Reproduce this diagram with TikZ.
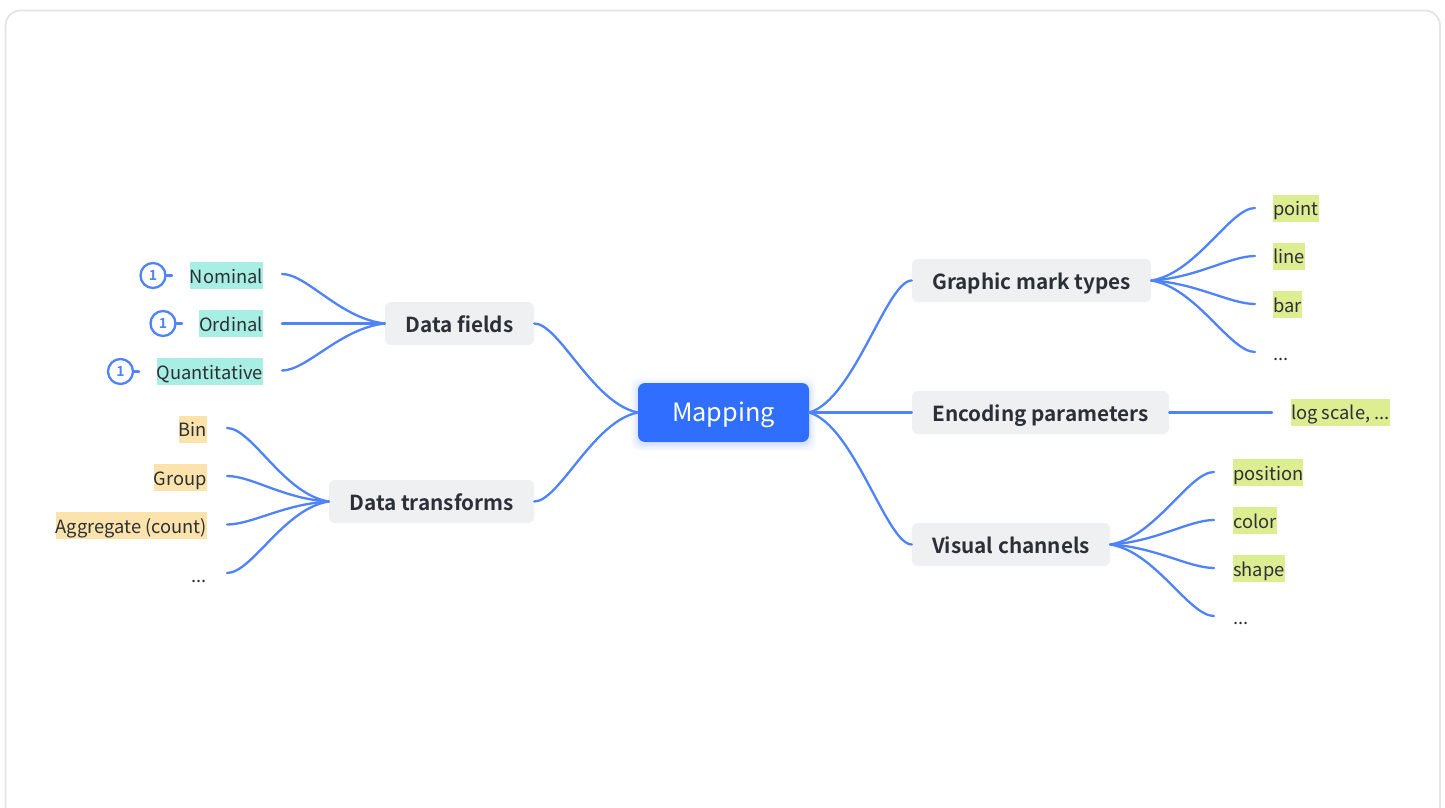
\documentclass[tikz,border=0pt]{standalone}
\usepackage{fontspec}
\setmainfont{Noto Sans CJK SC}[BoldFont={Noto Sans CJK SC Bold}]
\definecolor{inkc}{HTML}{2B2F36}
\definecolor{linkc}{HTML}{4F83FB}
\definecolor{rootc}{HTML}{2F6EFF}
\definecolor{grayc}{HTML}{EFF0F2}
\definecolor{tealc}{HTML}{A9EEE2}
\definecolor{orangec}{HTML}{FBE3AB}
\definecolor{greenc}{HTML}{DDED91}
\definecolor{cardc}{HTML}{E4E4E4}
\tikzset{
  x=1pt,y=-1pt,
  link/.style={draw=linkc,line width=2.3pt,line cap=round},
  branch/.style={fill=grayc,rounded corners=6pt,inner sep=0pt,minimum height=43pt,text=inkc,text height=17pt,text depth=0pt,font=\fontsize{20.7}{24}\selectfont\bfseries},
  leaf/.style={inner xsep=0pt,inner ysep=0pt,minimum height=27pt,text=inkc,text height=15pt,text depth=0pt,font=\fontsize{18.3}{24}\selectfont},
  teal/.style={leaf,fill=tealc,anchor=east},
  orange/.style={leaf,fill=orangec,anchor=east},
  green/.style={leaf,fill=greenc,anchor=west},
  marker/.style={circle,draw=linkc,line width=2.3pt,fill=white,minimum size=25pt,inner sep=0pt,text=linkc,font=\fontsize{14}{14}\selectfont\bfseries},
}
\begin{document}
\begin{tikzpicture}
\useasboundingbox (0,0) rectangle (1445,808);
\fill[white] (0,0) rectangle (1445,808);
\draw[cardc,line width=1.8pt,rounded corners=15pt] (5.5,830) -- (5.5,10.5) -- (1440,10.5) -- (1440,830);

% root glow
\foreach \g/\o in {7/0.03,5/0.04,3/0.05,1.5/0.06}{
  \fill[rootc,opacity=\o,rounded corners=8pt] (638-\g,385-\g) rectangle (809+\g,444+\g);
}
\node[fill=rootc,rounded corners=7pt,minimum width=171pt,minimum height=59pt,inner sep=0pt,text=white,text height=17pt,text depth=0pt,font=\fontsize{25.3}{30}\selectfont] (root) at (723.5,412.5) {Mapping};

% branches
\node[branch,minimum width=149pt] (fields) at (459.5,323.5) {Data fields};
\node[branch,minimum width=205pt] (transforms) at (431.5,501.5) {Data transforms};
\node[branch,minimum width=239pt] (marks) at (1031.5,280.5) {Graphic mark types};
\node[branch,minimum width=257pt] (params) at (1040.5,412.5) {Encoding parameters};
\node[branch,minimum width=198pt] (channels) at (1011,544.5) {Visual channels};

% left leaves
\node[teal] (nominal) at (263,275.5) {Nominal};
\node[teal] (ordinal) at (263,323.5) {Ordinal};
\node[teal] (quant) at (263,371.5) {Quantitative};
\node[orange] (bin) at (207,429) {Bin};
\node[orange] (group) at (207,477.5) {Group};
\node[orange] (aggr) at (207,525.5) {Aggregate (count)};
\node[leaf,anchor=east] (ldots) at (207,575) {...};

% right leaves
\node[green] (point) at (1273,208) {point};
\node[green] (line) at (1273,256) {line};
\node[green] (bar) at (1273,304.5) {bar};
\node[leaf,anchor=west] (rdots) at (1273,353) {...};
\node[green] (log) at (1291,412) {log scale, ...};
\node[green] (position) at (1233,472.5) {position};
\node[green] (color) at (1233,520.5) {color};
\node[green] (shape) at (1233,568.5) {shape};
\node[leaf,anchor=west] (vdots) at (1233,617) {...};

% free ends of leaf connectors
\coordinate (nominalEnd) at (282,274);
\coordinate (ordinalEnd) at (282,323.5);
\coordinate (quantEnd) at (282,370.5);
\coordinate (binEnd) at (227,428);
\coordinate (groupEnd) at (227,476);
\coordinate (aggrEnd) at (227,524.5);
\coordinate (ldotsEnd) at (227,573);
\coordinate (pointEnd) at (1255,208);
\coordinate (lineEnd) at (1255,256);
\coordinate (barEnd) at (1255,304);
\coordinate (rdotsEnd) at (1255,352);
\coordinate (logEnd) at (1272,412.5);
\coordinate (positionEnd) at (1214,472);
\coordinate (colorEnd) at (1214,520);
\coordinate (shapeEnd) at (1214,568);
\coordinate (vdotsEnd) at (1214,616);

% connectors
\draw[link] (fields.east) .. controls +(25,0) and +(-45,-9) .. (root.west);
\draw[link] (transforms.east) .. controls +(25,0) and +(-45,9) .. (root.west);
\draw[link] (root.east) .. controls +(45,-13) and +(-25,0) .. (marks.west);
\draw[link] (root.east) -- (params.west);
\draw[link] (root.east) .. controls +(45,13) and +(-25,0) .. (channels.west);

\draw[link] (nominalEnd) .. controls +(25,0) and +(-45,-5) .. (fields.west);
\draw[link] (ordinalEnd) -- (fields.west);
\draw[link] (quantEnd) .. controls +(25,0) and +(-45,5) .. (fields.west);

\draw[link] (binEnd) .. controls +(25,0) and +(-45,-7) .. (transforms.west);
\draw[link] (groupEnd) .. controls +(25,0) and +(-45,-2.5) .. (transforms.west);
\draw[link] (aggrEnd) .. controls +(25,0) and +(-45,2.5) .. (transforms.west);
\draw[link] (ldotsEnd) .. controls +(25,0) and +(-45,7) .. (transforms.west);

\draw[link] (marks.east) .. controls +(45,-7) and +(-25,0) .. (pointEnd);
\draw[link] (marks.east) .. controls +(45,-2.5) and +(-25,0) .. (lineEnd);
\draw[link] (marks.east) .. controls +(45,2.5) and +(-25,0) .. (barEnd);
\draw[link] (marks.east) .. controls +(45,7) and +(-25,0) .. (rdotsEnd);
\draw[link] (params.east) -- (logEnd);
\draw[link] (channels.east) .. controls +(45,-7) and +(-25,0) .. (positionEnd);
\draw[link] (channels.east) .. controls +(45,-2.5) and +(-25,0) .. (colorEnd);
\draw[link] (channels.east) .. controls +(45,2.5) and +(-25,0) .. (shapeEnd);
\draw[link] (channels.east) .. controls +(45,7) and +(-25,0) .. (vdotsEnd);

% markers
\coordinate (m1tick) at (172,275.5);
\coordinate (m2tick) at (182,323.5);
\coordinate (m3tick) at (139,371.5);
\node[marker] (m1) at (153,275.5) {1};
\node[marker] (m2) at (163,323.5) {1};
\node[marker] (m3) at (120.5,371.5) {1};
\draw[link] (m1.east) -- (m1tick);
\draw[link] (m2.east) -- (m2tick);
\draw[link] (m3.east) -- (m3tick);
\end{tikzpicture}
\end{document}
